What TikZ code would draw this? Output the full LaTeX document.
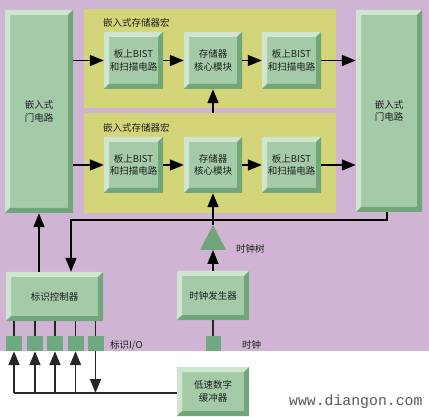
\documentclass[tikz,border=0pt]{standalone}
\usepackage{fontspec}
\setmainfont{Noto Sans CJK SC}
\newfontfamily\wmfont{Liberation Mono}
\usetikzlibrary{arrows.meta,calc}
\definecolor{bgpurple}{RGB}{208,180,212}
\definecolor{macroyellow}{RGB}{212,212,120}
\definecolor{boxgreen}{RGB}{164,202,168}
\definecolor{bevlight}{RGB}{206,230,208}
\definecolor{bevdark}{RGB}{112,166,122}
\definecolor{padgreen}{RGB}{110,170,128}
\definecolor{txt}{RGB}{30,30,30}
\tikzset{
  bevbox/.style={fill=boxgreen, inner sep=0pt, align=center, text=txt,
    font=\fontsize{9.5}{12.5}\selectfont,
    path picture={
      \path (path picture bounding box.north west) coordinate (bbnw)
            (path picture bounding box.north east) coordinate (bbne)
            (path picture bounding box.south east) coordinate (bbse)
            (path picture bounding box.south west) coordinate (bbsw);
      \fill[bevlight] (bbnw) -- (bbne) -- ([shift={(-5pt,-5pt)}]bbne) -- ([shift={(5pt,-5pt)}]bbnw)
         -- ([shift={(5pt,5pt)}]bbsw) -- (bbsw) -- cycle;
      \fill[bevdark] (bbne) -- (bbse) -- (bbsw) -- ([shift={(5pt,5pt)}]bbsw)
         -- ([shift={(-5pt,5pt)}]bbse) -- ([shift={(-5pt,-5pt)}]bbne) -- cycle;
    }},
  macrobox/.style={fill=macroyellow, inner sep=0pt},
  padbox/.style={fill=padgreen, inner sep=0pt, minimum width=16pt, minimum height=15pt},
  lbl/.style={anchor=west, inner sep=0pt, text=txt, font=\fontsize{9.5}{11}\selectfont},
  arr/.style={-{Triangle[length=14pt,width=11pt]}, line width=1.6pt, draw=black},
  wire/.style={line width=1.6pt, draw=black!85},
}
\begin{document}
\begin{tikzpicture}[x=1pt,y=-1pt]
\useasboundingbox (0,0) rectangle (429,417);
\fill[bgpurple] (0,0) rectangle (429,351);

% macros
\node[macrobox, minimum width=252pt, minimum height=99pt] (m1) at (210,58.5) {};
\node[macrobox, minimum width=252pt, minimum height=100pt] (m2) at (210,163) {};
\node[lbl] (t1) at (103,23) {嵌入式存储器宏};
\node[lbl] (t2) at (103,128) {嵌入式存储器宏};

% gates
\node[bevbox, minimum width=68pt, minimum height=203pt] (gL) at (39,111.5) {嵌入式\\门电路};
\node[bevbox, minimum width=66pt, minimum height=202pt] (gR) at (389,111) {嵌入式\\门电路};

% row 1
\node[bevbox, minimum width=59pt, minimum height=57pt] (b11) at (133.5,60.5) {板上BIST\\和扫描电路};
\node[bevbox, minimum width=58pt, minimum height=57pt] (c1) at (213,60.5) {存储器\\核心模块};
\node[bevbox, minimum width=59pt, minimum height=57pt] (b12) at (291.5,60.5) {板上BIST\\和扫描电路};
% row 2
\node[bevbox, minimum width=59pt, minimum height=56pt] (b21) at (133.5,165) {板上BIST\\和扫描电路};
\node[bevbox, minimum width=58pt, minimum height=56pt] (c2) at (213,165) {存储器\\核心模块};
\node[bevbox, minimum width=59pt, minimum height=56pt] (b22) at (291.5,165) {板上BIST\\和扫描电路};

% lower boxes
\node[bevbox, minimum width=97pt, minimum height=49pt] (ctrl) at (54.5,296.5) {标识控制器};
\node[bevbox, minimum width=72pt, minimum height=49pt] (cg) at (213,295.5) {时钟发生器};
\node[bevbox, minimum width=72pt, minimum height=49pt] (buf) at (213,391.5) {低速数字\\缓冲器};

% clock tree triangle
\coordinate (triA) at (213,225);
\coordinate (triB) at (213,250);
\fill[bevdark] (triA) -- (226,250) -- (200,250) -- cycle;
\node[lbl] (ctl) at (236,249) {时钟树};

% pads
\node[padbox] (p1) at (14,343.5) {};
\node[padbox] (p2) at (35,343.5) {};
\node[padbox] (p3) at (55,343.5) {};
\node[padbox] (p4) at (75.5,343.5) {};
\node[padbox] (p5) at (95.5,343.5) {};
\node[padbox, minimum width=15pt] (cp) at (213,343.5) {};
\node[lbl] (iol) at (110,345) {标识I/O};
\node[lbl] (ckl) at (242,345) {时钟};

% arrows row 1
\draw[arr] (gL.east |- b11.west) -- (b11.west);
\draw[arr] (b11.east) -- (c1.west);
\draw[arr] (c1.east) -- (b12.west);
\draw[arr] (b12.east) -- (gR.west |- b12.east);
% arrows row 2
\draw[arr] (gL.east |- b21.west) -- (b21.west);
\draw[arr] (b21.east) -- (c2.west);
\draw[arr] (c2.east) -- (b22.west);
\draw[arr] (b22.east) -- (gR.west |- b22.east);

% clock distribution
\draw[arr] (c2.north |- m2.north) -- (c1.south);
\draw[arr] (triA) -- (c2.south);
\draw[arr] (cg.north) -- (triB);
\draw[wire] (cg.south) -- (cp.north);

% feedback from right gate to controller
\coordinate (k1) at (387,220);
\coordinate (k2) at (71,220);
\draw[arr] (gR.south -| k1) -- (k1) -- (k2) -- (k2 |- ctrl.north);
\draw[arr] (ctrl.north -| gL.south) -- (gL.south);

% controller to pads
\foreach \p in {p1,p2,p3,p4,p5}{
  \draw[wire] (\p.north |- ctrl.south) -- (\p.north);
}
% pads to buffer bus
\coordinate (bl) at (14,393);
\draw[wire] (p1.south |- bl) -- (bl -| buf.west);
\foreach \p in {p1,p2,p3,p4}{
  \draw[arr, draw=black!85] (\p.south |- bl) -- (\p.south);
}
\draw[arr, draw=black!85] (p5.south) -- (p5.south |- bl);

% watermark
\node[anchor=west, inner sep=0pt, text=black!65, font=\wmfont\fontsize{14.8}{15}\selectfont] (wm) at (289,402) {www.diangon.com};
\end{tikzpicture}
\end{document}
